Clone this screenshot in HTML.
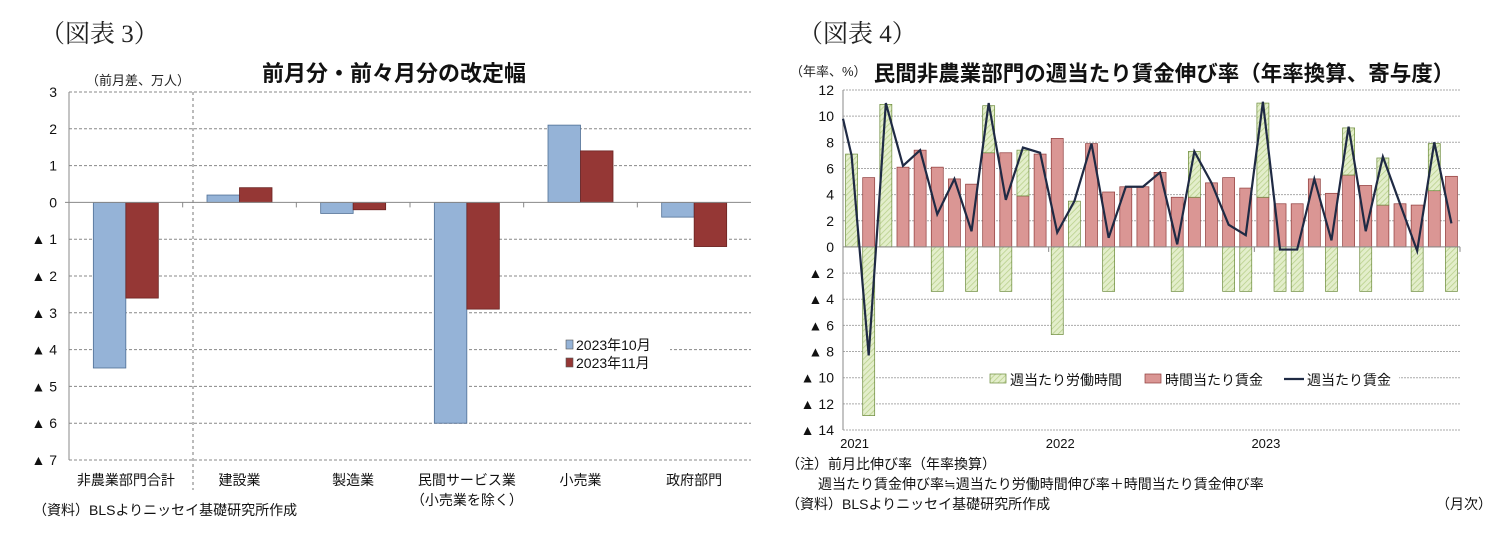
<!DOCTYPE html>
<html><head><meta charset="utf-8">
<style>
html,body{margin:0;padding:0;background:#fff;}
svg{display:block;font-family:"Liberation Sans","Noto Sans CJK JP",sans-serif;}
.ser{font-family:"Liberation Serif","Noto Serif CJK JP",serif;}
</style></head>
<body>
<svg id="root" width="1506" height="548" viewBox="0 0 1506 548" xmlns="http://www.w3.org/2000/svg">
<text class="ser" x="40" y="42" font-size="25" fill="#222">（図表 3）</text>
<text class="ser" x="798" y="42" font-size="25" fill="#222">（図表 4）</text>
<g id="left"></g>
<g id="right"></g>
</svg>
<script>
// ---------- Left chart data ----------
const leftCategories = ["非農業部門合計","建設業","製造業","民間サービス業","小売業","政府部門"];
const octValues = [-4.5, 0.2, -0.3, -6.0, 2.1, -0.4];
const novValues = [-2.6, 0.4, -0.2, -2.9, 1.4, -1.2];
const leftTicks = [3,2,1,0,-1,-2,-3,-4,-5,-6,-7];

// ---------- Right chart data ----------
const monthLabels = ["2021-01","2021-02","2021-03","2021-04","2021-05","2021-06","2021-07","2021-08","2021-09","2021-10","2021-11","2021-12",
"2022-01","2022-02","2022-03","2022-04","2022-05","2022-06","2022-07","2022-08","2022-09","2022-10","2022-11","2022-12",
"2023-01","2023-02","2023-03","2023-04","2023-05","2023-06","2023-07","2023-08","2023-09","2023-10","2023-11","2023-12"];
const hoursContrib = [7.1,-12.9,10.9,0,0,-3.4,0,-3.4,3.6,-3.4,3.5,0,
-6.7,3.5,0,-3.4,0,0,0,-3.4,3.5,0,-3.4,-3.4,
7.2,-3.4,-3.4,0,-3.4,3.6,-3.4,3.6,0,-3.4,3.6,-3.4];
const wageContrib = [0,5.3,0,6.1,7.4,6.1,5.2,4.8,7.2,7.2,3.9,7.1,
8.3,0,7.9,4.2,4.6,4.6,5.7,3.8,3.8,4.9,5.3,4.5,
3.8,3.3,3.3,5.2,4.1,5.5,4.7,3.2,3.3,3.2,4.3,5.4];
const weeklyWage = [7.0,-8.3,11.0,6.2,7.4,2.5,5.2,1.2,11.0,3.6,7.6,7.2,
1.1,3.5,7.9,0.7,4.6,4.6,5.7,0.2,7.3,4.9,1.7,0.9,
11.1,-0.2,-0.2,5.2,0.5,9.2,1.2,6.9,3.3,-0.3,8.0,1.8];
const weeklyWagePrev = 9.8;
const rightTicks = [12,10,8,6,4,2,0,-2,-4,-6,-8,-10,-12,-14];
const yearLabels = ["2021","2022","2023"];

const NS="http://www.w3.org/2000/svg";
function mk(tag, attrs, parent){const e=document.createElementNS(NS,tag);for(const k in attrs)e.setAttribute(k,attrs[k]);parent.appendChild(e);return e;}
function tickText(v){return v<0?"▲ "+(-v):String(v);}

// ===== LEFT =====
(function(){
const g=document.getElementById('left');
const x0=69,x1=751,yTop=92,yBot=460,vMax=3,vMin=-7;
const y=v=>yTop+(vMax-v)*(yBot-yTop)/(vMax-vMin);
const cw=(x1-x0)/leftCategories.length;
const xc=i=>x0+cw*(i+0.5);
let t=mk('text',{x:394,y:81,'font-size':22,'font-weight':'bold','text-anchor':'middle',fill:'#111'},g);
t.textContent="前月分・前々月分の改定幅";


t=mk('text',{x:86,y:85,'font-size':13,fill:'#222'},g);t.textContent="（前月差、万人）";


leftTicks.forEach(v=>{
  if(v!==0){const l=mk('line',{x1:x0,x2:x1,y1:y(v),y2:y(v),stroke:'#888','stroke-dasharray':'3,2','stroke-width':1},g);
  
  }
  const tx=mk('text',{x:57,y:y(v)+5,'font-size':14,'text-anchor':'end',fill:'#111'},g);tx.textContent=tickText(v);
  
  
});
const dv=mk('line',{x1:193,x2:193,y1:yTop,y2:490,stroke:'#777','stroke-dasharray':'3,3'},g);


const bw=32.5;
leftCategories.forEach((c,i)=>{
  const b1=mk('rect',{x:xc(i)-bw,y:Math.min(y(0),y(octValues[i])),width:bw,height:Math.abs(y(octValues[i])-y(0)),fill:'#95b3d7',stroke:'#4f6f95','stroke-width':0.8},g);
  
  
  const b2=mk('rect',{x:xc(i),y:Math.min(y(0),y(novValues[i])),width:bw,height:Math.abs(y(novValues[i])-y(0)),fill:'#953735',stroke:'#6b2422','stroke-width':0.8},g);
  
  
  const lab=mk('text',{x:xc(i),y:485,'font-size':14,'text-anchor':'middle',fill:'#111'},g);lab.textContent=c;
  
  
  if(i>0){const tk=mk('line',{x1:x0+cw*i,x2:x0+cw*i,y1:y(0),y2:y(0)+5,stroke:'#888'},g);
  
  }
});
const sub=mk('text',{x:xc(3),y:505,'font-size':14,'text-anchor':'middle',fill:'#111'},g);sub.textContent="（小売業を除く）";


const ax=mk('line',{x1:x0,x2:x0,y1:yTop,y2:yBot,stroke:'#888'},g);


const zx=mk('line',{x1:x0-4,x2:x1,y1:y(0),y2:y(0),stroke:'#888'},g);


// legend
const lg=mk('rect',{x:558,y:335,width:112,height:38,fill:'#fff'},g);


[['#95b3d7','2023年10月'],['#953735','2023年11月']].forEach((e,k)=>{
  const s=mk('rect',{x:566,y:340+k*18,width:7,height:9,fill:e[0],stroke:'#555','stroke-width':0.6},g);
  
  
  const tt=mk('text',{x:576,y:350+k*18,'font-size':14,fill:'#111'},g);tt.textContent=e[1];
  
  
});
const src=mk('text',{x:33,y:515,'font-size':14,fill:'#111'},g);src.textContent="（資料）BLSよりニッセイ基礎研究所作成";


})();

// ===== RIGHT =====
(function(){
const g=document.getElementById('right');
const defs=mk('defs',{},g);
const pat=mk('pattern',{id:'hatch',width:4,height:4,patternUnits:'userSpaceOnUse',patternTransform:'rotate(45)'},defs);
mk('rect',{width:4,height:4,fill:'#e3eecb'},pat);
mk('line',{x1:0,y1:0,x2:0,y2:4,stroke:'#b9d08c','stroke-width':1.6},pat);
const x0=843,x1=1460,yTop=90,yBot=430,vMax=12,vMin=-14;
const y=v=>yTop+(vMax-v)*(yBot-yTop)/(vMax-vMin);
const cw=(x1-x0)/monthLabels.length;
const xc=i=>x0+cw*(i+0.5);
let t=mk('text',{x:1164,y:81,'font-size':21.5,'font-weight':'bold','text-anchor':'middle',fill:'#111'},g);
t.textContent="民間非農業部門の週当たり賃金伸び率（年率換算、寄与度）";


t=mk('text',{x:790,y:76,'font-size':13,fill:'#222'},g);t.textContent="（年率、%）";


rightTicks.forEach(v=>{
  if(v!==0){const l=mk('line',{x1:x0,x2:x1,y1:y(v),y2:y(v),stroke:'#aaa','stroke-dasharray':'2,1','stroke-width':1},g);
  
  }
  const tx=mk('text',{x:834,y:y(v)+5,'font-size':14,'text-anchor':'end',fill:'#111'},g);tx.textContent=tickText(v);
  
  
});
const bw=12;
monthLabels.forEach((m,i)=>{
  const w=wageContrib[i],h=hoursContrib[i];
  if(w!==0){const r=mk('rect',{x:xc(i)-bw/2,y:y(w),width:bw,height:y(0)-y(w),fill:'#da9694',stroke:'#8e3b3a','stroke-width':0.7},g);
    
    }
  if(h!==0){const base=h>0?w:0;const top=base+h;
    const r=mk('rect',{x:xc(i)-bw/2,y:Math.min(y(base),y(top)),width:bw,height:Math.abs(y(top)-y(base)),fill:'url(#hatch)',stroke:'#6b8a3a','stroke-width':0.7},g);
    
    }
});
const ax=mk('line',{x1:x0,x2:x0,y1:yTop,y2:yBot,stroke:'#888'},g);


const zx=mk('line',{x1:x0,x2:x1,y1:y(0),y2:y(0),stroke:'#888'},g);


[12,24,36].forEach(k=>{const tk=mk('line',{x1:x0+cw*k,x2:x0+cw*k,y1:y(0),y2:y(0)+5,stroke:'#888'},g);
  
  });
let pts=x0+","+y(weeklyWagePrev);
weeklyWage.forEach((v,i)=>{pts+=" "+xc(i)+","+y(v);});
const pl=mk('polyline',{points:pts,fill:'none',stroke:'#1f2a44','stroke-width':2.2,'stroke-linejoin':'miter'},g);


yearLabels.forEach((yl,k)=>{
  const tx=mk('text',{x:xc(k*12)+3,y:448,'font-size':13,'text-anchor':'middle',fill:'#111'},g);tx.textContent=yl;
  
  
});
// legend
const lg=mk('rect',{x:983,y:368,width:416,height:22,fill:'#fff'},g);


const s1=mk('rect',{x:990,y:374,width:16,height:9,fill:'url(#hatch)',stroke:'#6b8a3a','stroke-width':0.7},g);


let lt=mk('text',{x:1010,y:385,'font-size':14,fill:'#111'},g);lt.textContent="週当たり労働時間";


const s2=mk('rect',{x:1145,y:374,width:16,height:9,fill:'#da9694',stroke:'#8e3b3a','stroke-width':0.7},g);


lt=mk('text',{x:1165,y:385,'font-size':14,fill:'#111'},g);lt.textContent="時間当たり賃金";


const s3=mk('line',{x1:1284,x2:1304,y1:379,y2:379,stroke:'#1f2a44','stroke-width':2.2},g);


lt=mk('text',{x:1307,y:385,'font-size':14,fill:'#111'},g);lt.textContent="週当たり賃金";


// notes
[["（注）前月比伸び率（年率換算）",786,469],["週当たり賃金伸び率≒週当たり労働時間伸び率＋時間当たり賃金伸び率",818,489],["（資料）BLSよりニッセイ基礎研究所作成",786,509],["（月次）",1436,509]].forEach(n=>{
  const tx=mk('text',{x:n[1],y:n[2],'font-size':14,fill:'#111'},g);tx.textContent=n[0];
  
  
});
})();
</script>
</body></html>
